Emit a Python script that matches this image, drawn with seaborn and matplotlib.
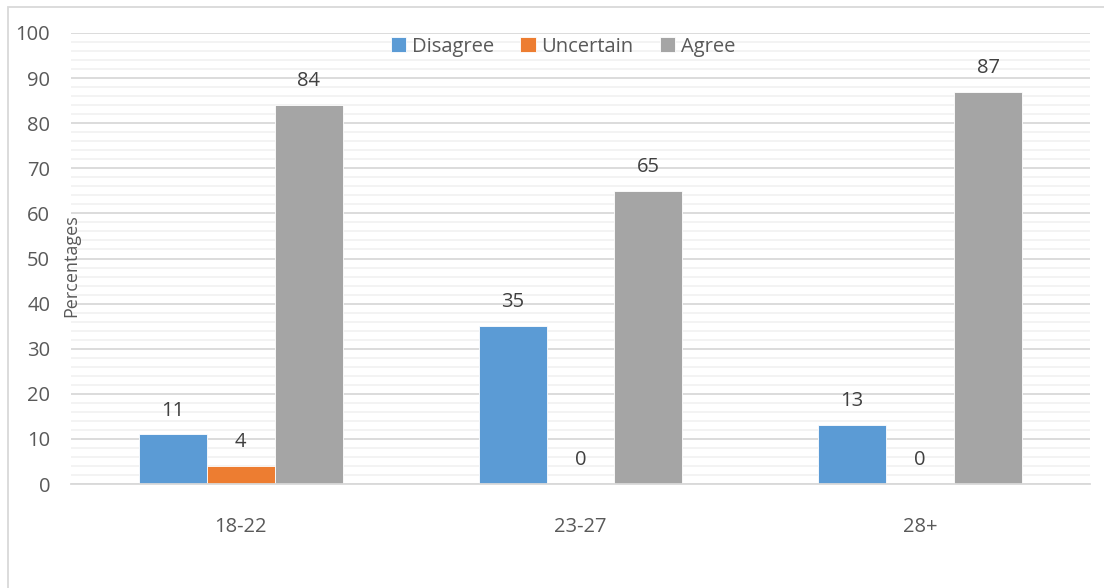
import pandas as pd
import matplotlib.pyplot as plt
import seaborn as sns
from matplotlib.patches import Rectangle

# Data
age_groups = ["18-22", "23-27", "28+"]
responses = ["Disagree", "Uncertain", "Agree"]
disagree = [11, 35, 13]
uncertain = [4, 0, 0]
agree = [84, 65, 87]

colors = ["#5B9BD5", "#ED7D31", "#A5A5A5"]
text_color = "#595959"

df = pd.DataFrame({
    "age": age_groups * 3,
    "response": [r for r in responses for _ in age_groups],
    "value": disagree + uncertain + agree,
})

sns.set_theme(style="white")
plt.rcParams['font.family'] = ['Open Sans', 'DejaVu Sans']

fig = plt.figure(figsize=(11.04, 5.88), dpi=100)
ax = fig.add_axes([71 / 1104, 1 - 484 / 588, (1090 - 71) / 1104, (484 - 33) / 588])

sns.barplot(data=df, x="age", y="value", hue="response", order=age_groups,
            hue_order=responses, palette=colors, width=0.6, gap=0,
            saturation=1, ax=ax, edgecolor="white", linewidth=0.6)

ax.set_ylim(0, 100)
ax.set_xlim(-0.5, 2.5)
ax.set_yticks(range(0, 101, 10))
ax.set_yticks(range(0, 101, 2), minor=True)
ax.grid(axis="y", which="major", color="#D9D9D9", linewidth=1.3, zorder=0)
ax.grid(axis="y", which="minor", color="#F2F2F2", linewidth=1.3, zorder=0)
ax.set_axisbelow(True)
for s in ["top", "right", "left"]:
    ax.spines[s].set_visible(False)
ax.spines["bottom"].set_color("#D9D9D9")
ax.spines["bottom"].set_linewidth(1.3)

ax.tick_params(axis="both", which="both", length=0, labelsize=14.5, colors=text_color)
ax.tick_params(axis="y", pad=15)
ax.tick_params(axis="x", pad=24)
ax.set_xlabel("")
ax.set_ylabel("")
ax.text(0.0, 0.485, "Percentages", rotation=90, transform=ax.transAxes,
        ha="center", va="center", fontsize=13, color=text_color)

for container in ax.containers:
    ax.bar_label(container, fmt="%g", padding=10, fontsize=14.5, color="#404040")

handles, labels = ax.get_legend_handles_labels()
leg = ax.legend(handles, labels, loc="upper center", bbox_to_anchor=(0.483, 1.032),
                ncol=3, frameon=False, fontsize=14.5, handlelength=0.75,
                handleheight=0.75, handletextpad=0.3, columnspacing=1.3)
for t in leg.get_texts():
    t.set_color(text_color)

fig.patches.append(Rectangle((8 / 1104, -0.05), 1.1, 1 - 7 / 588 + 0.05,
                             transform=fig.transFigure, fill=False,
                             edgecolor="#D9D9D9", linewidth=1.3))

fig.savefig("out.png", dpi=100)
